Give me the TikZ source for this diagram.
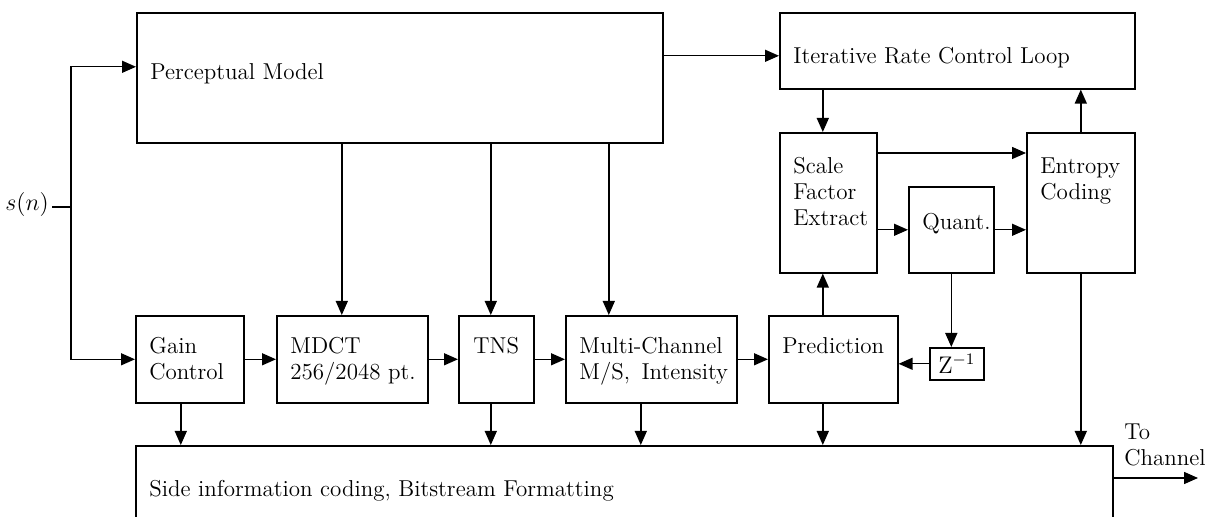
\documentclass[tikz,border=0pt]{standalone}
\usepackage{amsmath}
\usetikzlibrary{arrows.meta,positioning}

\begin{document}
\begin{tikzpicture}[x=0.5pt, y=-0.5pt,
  blk/.style={draw=black, line width=0.8pt, inner sep=0pt, anchor=north west, font=\fontsize{11.5}{13}\selectfont},
  txt/.style={inner sep=0pt, align=left, font=\fontsize{11.5}{13}\selectfont},
  arr/.style={-{Triangle[length=7pt,width=6pt]}, line width=0.7pt},
  ln/.style={line width=0.7pt}
]
  \useasboundingbox (0,0) rectangle (1210,517);

  % top: perceptual model and rate control loop
  \node[blk, minimum width=263pt, minimum height=65pt] (pm) at (136,12) {};
  \node[blk, minimum width=177.5pt, minimum height=38pt] (irc) at (779,12) {};
  \node[blk, minimum width=48.5pt, minimum height=70pt] (sfe) at (779,132) {};
  \node[blk, minimum width=42.5pt, minimum height=43pt] (quant) at (908,186) {};
  \node[blk, minimum width=54pt, minimum height=70pt] (ec) at (1026,132) {};

  \node[txt, below right=25.5pt and 7pt of pm.north west] (pm-t) {Perceptual Model};
  \node[txt, below right=17.5pt and 7pt of irc.north west] (irc-t) {Iterative Rate Control Loop};
  \node[txt, below right=12.5pt and 7pt of sfe.north west] (sfe-t) {Scale\\Factor\\Extract};
  \node[txt, below right=12.5pt and 7pt of ec.north west] (ec-t) {Entropy\\Coding};
  \node[txt, below right=13.5pt and 7pt of quant.north west] (quant-t) {Quant.};

  % bottom row: signal path
  \node[blk, minimum width=54pt, minimum height=43.5pt] (gain) at (135,315) {};
  \node[blk, minimum width=75.5pt, minimum height=43.5pt] (mdct) at (276,315) {};
  \node[blk, minimum width=37.5pt, minimum height=43.5pt] (tns) at (458,315) {};
  \node[blk, minimum width=85.5pt, minimum height=43.5pt] (mc) at (565,315) {};
  \node[blk, minimum width=64.5pt, minimum height=43.5pt] (pred) at (768,315) {};
  \node[blk, minimum width=27pt, minimum height=16pt] (zinv) at (929,347) {$\mathrm{Z}^{-1}$};
  \node[blk, minimum width=488.5pt, minimum height=42.5pt] (side) at (135,445) {};

  \node[txt, below right=11pt and 7pt of gain.north west] (gain-t) {Gain\\Control};
  \node[txt, below right=11pt and 7pt of mdct.north west] (mdct-t) {MDCT\\256/2048 pt.};
  \node[txt, below=11pt of tns.north] (tns-t) {TNS};
  \node[txt, below right=11pt and 7pt of mc.north west] (mc-t) {Multi-Channel\\M/S,\enspace Intensity};
  \node[txt, below right=11pt and 7pt of pred.north west] (pred-t) {Prediction};
  \node[txt, below right=17.5pt and 7pt of side.north west] (side-t) {Side information coding, Bitstream Formatting};

  % input
  \node[inner sep=1.5pt, font=\fontsize{11.5}{13}\selectfont] (sn) at (27,205) {$s(n)$};
  \coordinate (split) at (71,207);
  \draw[ln] (sn.east |- split) -- (split);
  \draw[arr] (split) |- ([yshift=5.5pt]pm.west);
  \draw[arr] (split) |- (gain.west);

  \draw[arr] (gain.east) -- (mdct.west);
  \draw[arr] (mdct.east) -- (tns.west);
  \draw[arr] (tns.east) -- (mc.west);
  \draw[arr] (mc.east) -- (pred.west);

  % perceptual model outputs
  \coordinate (irc-in) at ([yshift=-2.5pt]irc.west);
  \draw[arr] (pm.east |- irc-in) -- (irc-in);
  \coordinate (mdct-in) at ([xshift=-5.25pt]mdct.north);
  \draw[arr] (pm.south -| mdct-in) -- (mdct-in);
  \coordinate (tns-in) at ([xshift=-2.75pt]tns.north);
  \draw[arr] (pm.south -| tns-in) -- (tns-in);
  \coordinate (mc-in) at ([xshift=-21.25pt]mc.north);
  \draw[arr] (pm.south -| mc-in) -- (mc-in);

  % rate control loop
  \coordinate (sfe-in) at ([xshift=-2.75pt]sfe.north);
  \draw[arr] (irc.south -| sfe-in) -- (sfe-in);
  \draw[arr] (ec.north) -- (irc.south -| ec.north);
  \coordinate (ec-in) at ([yshift=-10.5pt]ec.north west);
  \draw[arr] (sfe.east |- ec-in) -- (ec-in);
  \draw[arr] (sfe.east |- quant.west) -- (quant.west);
  \draw[arr] (quant.east) -- (ec.west |- quant.east);
  \draw[arr] (quant.south) -- (zinv.north -| quant.south);
  \draw[arr] (zinv.west) -- (pred.east |- zinv.west);
  \coordinate (pred-up) at ([xshift=-5.25pt]pred.north);
  \draw[arr] (pred-up) -- (sfe.south -| pred-up);

  % side information
  \foreach \b/\dx in {gain/-4.5pt, tns/-2.75pt, mc/-5.25pt, pred/-5.25pt, ec/0pt} {
    \coordinate (\b-out) at ([xshift=\dx]\b.south);
    \draw[arr] (\b-out) -- (side.north -| \b-out);
  }

  \coordinate (chan) at (1198,478);
  \draw[arr] (side.east |- chan) -- (chan);
  \node[txt, anchor=north west] (chan-t) at (1124,424) {To\\Channel};
\end{tikzpicture}
\end{document}
